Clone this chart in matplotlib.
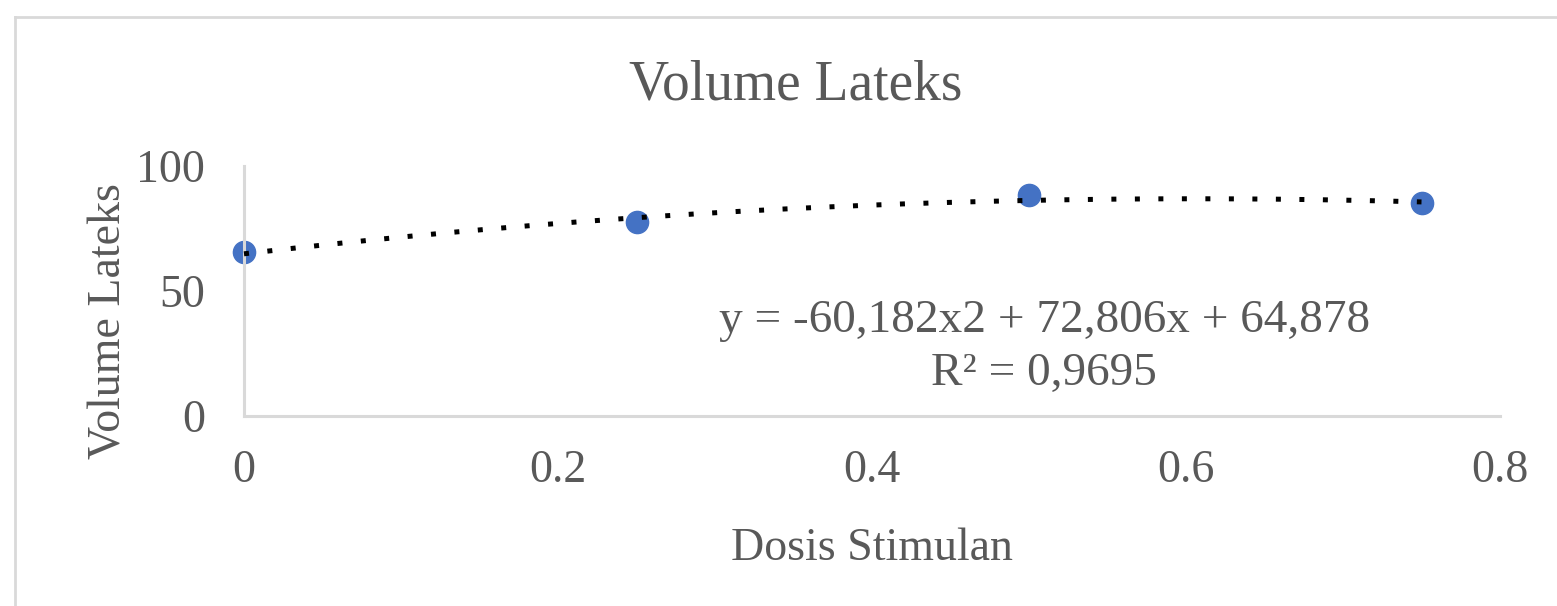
import matplotlib.pyplot as plt
from matplotlib.lines import Line2D
import numpy as np

# data
dosis = [0, 0.25, 0.5, 0.75]
volume = [65.5, 77.8, 88.3, 85.3]
# trendline coefficients as printed on the chart
coef = [-60.182, 72.806, 64.878]
eq_text = "y = -60,182x2 + 72,806x + 64,878\nR\u00b2 = 0,9695"

x_ticks = [0, 0.2, 0.4, 0.6, 0.8]
x_ticklabels = ["0", "0.2", "0.4", "0.6", "0.8"]
y_ticks = [0, 50, 100]

plt.rcParams['font.family'] = ['Liberation Serif', 'DejaVu Serif']
txt = "#595959"
grey = "#d9d9d9"

fig = plt.figure(figsize=(15.57, 6.06), dpi=100)
ax = fig.add_axes([244/1557, 190/606, 1256/1557, 250/606])

# chart frame (top and left edges visible)
fig.add_artist(Line2D([15/1557, 15/1557], [0, 1 - 17/606], transform=fig.transFigure,
                      color=grey, lw=2))
fig.add_artist(Line2D([15/1557, 1], [1 - 17/606, 1 - 17/606], transform=fig.transFigure,
                      color=grey, lw=2))

xs = np.linspace(dosis[0], dosis[-1], 200)
ax.plot(xs, np.polyval(coef, xs), color="black", lw=3.6,
        linestyle=(0, (1, 3.7)), dash_capstyle="butt", zorder=3, clip_on=False)
ax.plot(dosis, volume, "o", color="#4472C4", markersize=16, zorder=2, clip_on=False)

ax.text(0.5096, 27.5, eq_text, ha="center", va="center", multialignment="center",
        fontsize=34, color=txt, linespacing=1.3)

ax.set_xlim(0, 0.8)
ax.set_ylim(0, 100)
ax.set_xticks(x_ticks)
ax.set_xticklabels(x_ticklabels)
ax.set_yticks(y_ticks)
ax.tick_params(length=0, labelsize=33, colors=txt)
ax.tick_params(axis="x", pad=24)
ax.tick_params(axis="y", pad=28)
for s in ["top", "right"]:
    ax.spines[s].set_visible(False)
for s in ["left", "bottom"]:
    ax.spines[s].set_color(grey)
    ax.spines[s].set_linewidth(2.2)

fig.text(796/1557, 1 - 85/606, "Volume Lateks", fontsize=40, color=txt,
         ha="center", va="center")
ax.set_xlabel("Dosis Stimulan", fontsize=33, color=txt, labelpad=26)
ax.set_ylabel("Volume Lateks", fontsize=33, color=txt)
ax.yaxis.set_label_coords(-0.09, 0.38)

fig.savefig("out.png", dpi=100)
